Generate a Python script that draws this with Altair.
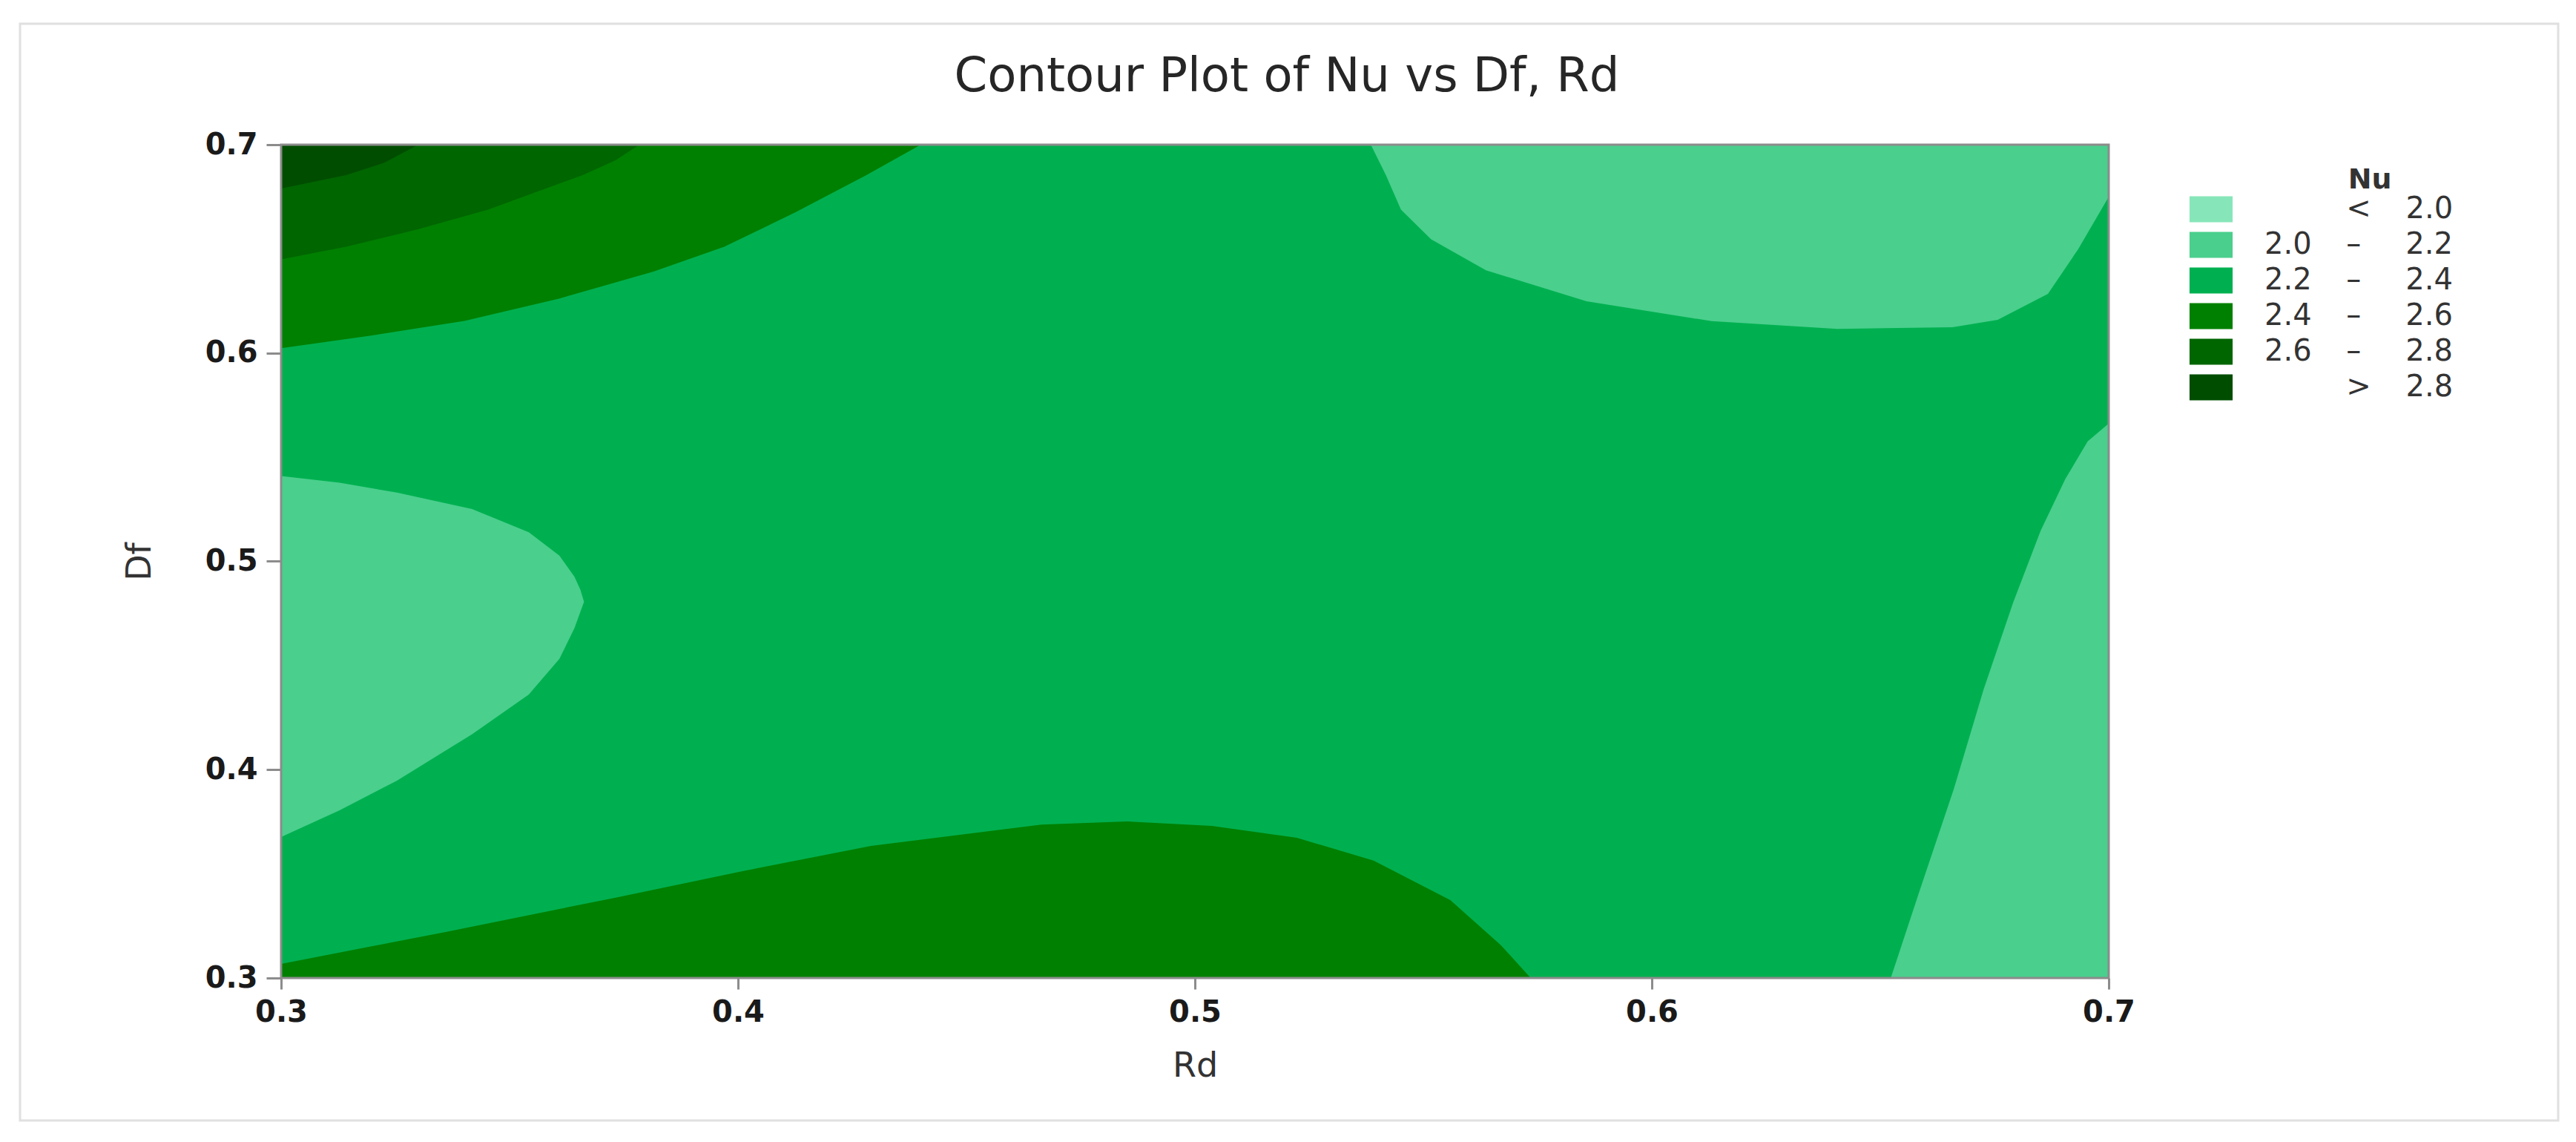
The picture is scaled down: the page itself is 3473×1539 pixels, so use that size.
import altair as alt
import pandas as pd

# ---------------- data ----------------
RD_DOMAIN = [0.3, 0.7]
DF_DOMAIN = [0.3, 0.7]
TICKS = [0.3, 0.4, 0.5, 0.6, 0.7]

F, P, EM, EN, S6, ZWJ = "\u2007", "\u2008", "\u2003", "\u2002", "\u2006", "\u200d"
BLANK = ZWJ + F + P + F
GAP = EM + S6
LEVELS = [
    BLANK + GAP + "<" + GAP + "2.0",
    "2.0" + GAP + "\u2013" + EM + EN + "2.2",
    "2.2" + GAP + "\u2013" + EM + EN + "2.4",
    "2.4" + GAP + "\u2013" + EM + EN + "2.6",
    "2.6" + GAP + "\u2013" + EM + EN + "2.8",
    BLANK + GAP + ">" + GAP + "2.8",
]
COLORS = ["#87e6b9", "#4acf8d", "#00b050", "#008000", "#006600", "#004d00"]

# base band (2.2 - 2.4) fills the whole design space
BASE_RD = [0.3, 0.7]
BASE_LO = [0.3, 0.3]
BASE_HI = [0.7, 0.7]

# bottom band 2.4 - 2.6
BOT_RD = [0.300, 0.336, 0.3732, 0.4012, 0.4291, 0.4664, 0.4851, 0.5037, 0.5223, 0.5391, 0.5559, 0.567, 0.5735]
BOT_HI = [0.3068, 0.3221, 0.3386, 0.3514, 0.3634, 0.3736, 0.3752, 0.373, 0.3673, 0.3564, 0.3374, 0.3157, 0.300]

# top-left 2.4 - 2.6 (boundary with 2.2 - 2.4)
C_RD = [0.300, 0.3194, 0.3401, 0.3608, 0.3815, 0.397, 0.4126, 0.4281, 0.440]
C_DF = [0.6023, 0.6083, 0.6154, 0.6261, 0.6391, 0.651, 0.6676, 0.6854, 0.700]

# top-left 2.6 - 2.8
B_RD = [0.300, 0.3142, 0.3298, 0.3453, 0.3556, 0.366, 0.3732, 0.3784]
B_DF = [0.645, 0.651, 0.6593, 0.6688, 0.6771, 0.6854, 0.6925, 0.700]

# top-left > 2.8
A_RD = [0.300, 0.3142, 0.3225, 0.330]
A_DF = [0.679, 0.6854, 0.6913, 0.700]

# left 2.0 - 2.2 lobe
L_RD = [0.300, 0.3128, 0.3253, 0.3418, 0.3542, 0.3609, 0.3642, 0.3655, 0.3663]
L_HI = [0.541, 0.5378, 0.533, 0.5251, 0.514, 0.5028, 0.4926, 0.4864, 0.4806]
L_LO = [0.3677, 0.3805, 0.3947, 0.417, 0.4361, 0.4532, 0.4679, 0.4758, 0.4806]

# top-right 2.0 - 2.2
TR_RD = [0.5385, 0.5418, 0.5451, 0.5517, 0.5637, 0.5857, 0.6131, 0.6406, 0.6658, 0.6757, 0.6867, 0.6933, 0.700]
TR_LO = [0.700, 0.6854, 0.6688, 0.6546, 0.6397, 0.6248, 0.6153, 0.6116, 0.6124, 0.6159, 0.6284, 0.6498, 0.675]

# bottom-right 2.0 - 2.2
BR_RD = [0.6523, 0.6585, 0.6661, 0.6726, 0.6791, 0.6851, 0.6905, 0.6954, 0.700]
BR_HI = [0.300, 0.3411, 0.3907, 0.4384, 0.4803, 0.5147, 0.5395, 0.5576, 0.5662]

FRAME = {"Rd": [0.3], "Rd2": [0.7], "lo": [0.3], "hi": [0.7]}

REGIONS = [
    ("base", 2, BASE_RD, BASE_LO, BASE_HI),
    ("bottom", 3, BOT_RD, [0.3] * len(BOT_RD), BOT_HI),
    ("tl_24", 3, C_RD, C_DF, [0.7] * len(C_RD)),
    ("tl_26", 4, B_RD, B_DF, [0.7] * len(B_RD)),
    ("tl_28", 5, A_RD, A_DF, [0.7] * len(A_RD)),
    ("left", 1, L_RD, L_LO, L_HI),
    ("topright", 1, TR_RD, TR_LO, [0.7] * len(TR_RD)),
    ("botright", 1, BR_RD, [0.3] * len(BR_RD), BR_HI),
]

rows = []
for name, lev, rd, lo, hi in REGIONS:
    for r, a, b in zip(rd, lo, hi):
        rows.append({"region": name, "level": LEVELS[lev], "Rd": r, "lo": a, "hi": b})
df = pd.DataFrame(rows)

# ---------------- encodings ----------------
FONT = "DejaVu Sans"
AX_COL = "#8c8c8c"

xaxis = alt.Axis(values=TICKS, format=".1f", title="Rd", grid=False, domain=False,
                 tickSize=15, tickWidth=3, tickColor=AX_COL, labelFlush=False,
                 labelFont=FONT, labelFontSize=40, labelFontWeight="bold", labelColor="#1a1a1a",
                 labelPadding=11, titleFont=FONT, titleFontSize=46, titleFontWeight="normal",
                 titleColor="#333333", titlePadding=30)
yaxis = alt.Axis(values=TICKS, format=".1f", title="Df", grid=False, domain=False,
                 tickSize=20, tickWidth=3, tickColor=AX_COL, labelFlush=False,
                 labelFont=FONT, labelFontSize=40, labelFontWeight="bold", labelColor="#1a1a1a",
                 labelPadding=12, titleFont=FONT, titleFontSize=46, titleFontWeight="normal",
                 titleColor="#333333", titlePadding=64)

legend = alt.Legend(
    title="Nu" + EM + EM + S6 + ZWJ, orient="none", legendX=2582, legendY=29, padding=0,
    titleFont=FONT, titleFontSize=38, titleFontWeight="bold", titleColor="#333333",
    titleAnchor="end", titlePadding=0,
    labelFont=FONT, labelFontSize=40, labelColor="#333333", labelOffset=52, labelLimit=600,
    symbolType="M-1.66,-1H1.66V1H-1.66Z", symbolSize=1225, symbolStrokeWidth=0,
    symbolOpacity=1, rowPadding=8,
)

x_enc = alt.X("Rd:Q", scale=alt.Scale(domain=RD_DOMAIN, nice=False, zero=False), axis=xaxis)
y_enc = alt.Y("hi:Q", scale=alt.Scale(domain=DF_DOMAIN, nice=False, zero=False), axis=yaxis)
c_enc = alt.Color("level:N", scale=alt.Scale(domain=LEVELS, range=COLORS), legend=legend)

border = alt.Chart(pd.DataFrame({"k": [0]})).mark_rect(
    fillOpacity=0, stroke="#e0e0e0", strokeWidth=3
).encode(x=alt.value(-352), x2=alt.value(3070), y=alt.value(-163), y2=alt.value(1315))

layers = [border]
for name, *_ in REGIONS:
    layers.append(
        alt.Chart(df).transform_filter(alt.datum.region == name)
        .mark_area(orient="vertical", interpolate="linear", opacity=1)
        .encode(x=x_enc, y=y_enc, y2="lo:Q", color=c_enc)
    )

frame = alt.Chart(pd.DataFrame(FRAME)).mark_rect(
    fillOpacity=0, stroke=AX_COL, strokeWidth=3
).encode(x=x_enc, x2="Rd2:Q", y=y_enc, y2="lo:Q")
layers.append(frame)

chart = alt.layer(*layers).properties(
    width=2464, height=1123,
    padding={"left": 17, "top": 22, "right": 10, "bottom": 10},
    title=alt.TitleParams("Contour Plot of Nu vs Df, Rd", font=FONT, fontSize=64,
                          fontWeight="normal", color="#262626", anchor="middle",
                          frame="group", dx=124, dy=156, baseline="alphabetic", offset=0),
).configure_view(stroke=None).configure(background="white")

chart.save("out.html", embed_options={"renderer": "svg", "actions": False})
